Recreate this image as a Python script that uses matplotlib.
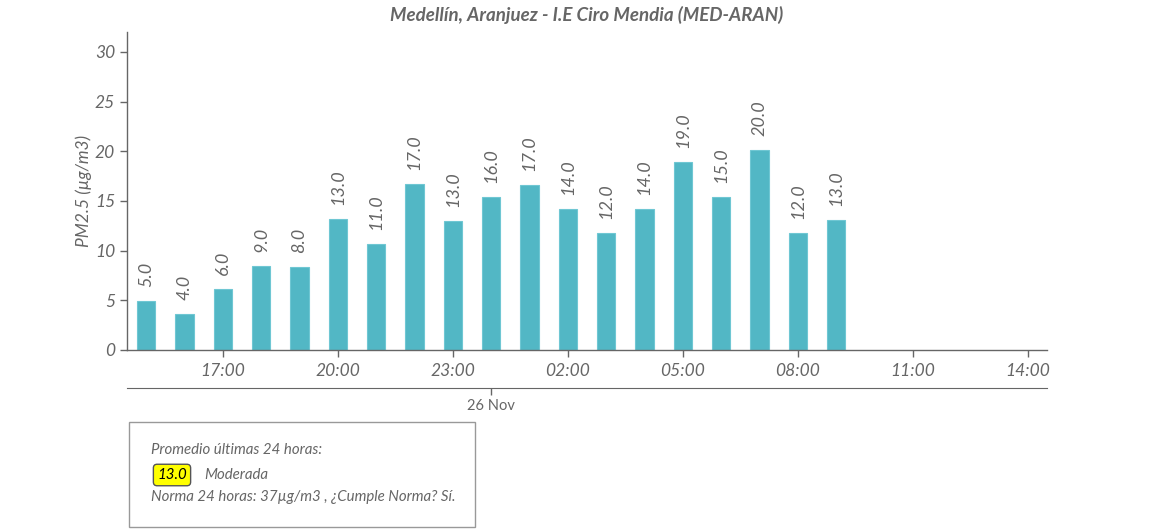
import matplotlib
matplotlib.use('Agg')
import matplotlib.pyplot as plt
import matplotlib.dates as mdates
from matplotlib.patches import Rectangle
import pandas as pd

plt.rcParams['font.family'] = ['Lato', 'DejaVu Sans']

# --- data ---
hours = ['2023-11-25 15:00', '2023-11-25 16:00', '2023-11-25 17:00', '2023-11-25 18:00',
         '2023-11-25 19:00', '2023-11-25 20:00', '2023-11-25 21:00', '2023-11-25 22:00',
         '2023-11-25 23:00', '2023-11-26 00:00', '2023-11-26 01:00', '2023-11-26 02:00',
         '2023-11-26 03:00', '2023-11-26 04:00', '2023-11-26 05:00', '2023-11-26 06:00',
         '2023-11-26 07:00', '2023-11-26 08:00', '2023-11-26 09:00']
pm25 = [4.9, 3.6, 6.1, 8.5, 8.4, 13.2, 10.7, 16.7, 13.0, 15.4,
        16.6, 14.2, 11.8, 14.2, 18.9, 15.4, 20.1, 11.8, 13.1]
labels = ['5.0', '4.0', '6.0', '9.0', '8.0', '13.0', '11.0', '17.0', '13.0', '16.0',
          '17.0', '14.0', '12.0', '14.0', '19.0', '15.0', '20.0', '12.0', '13.0']
x_start, x_end = '2023-11-25 14:30', '2023-11-26 14:30'
day_tick = '2023-11-26 00:00'
day_label = '26 Nov'
avg_24h = '13.0'
avg_category = 'Moderada'

title = 'Medellín, Aranjuez - I.E Ciro Mendia (MED-ARAN)'
gray = '#666666'
bar_color = '#52b7c5'

times = pd.to_datetime(hours)

W, H = 1150, 530
fig = plt.figure(figsize=(W / 100, H / 100), dpi=100)
# axes box in pixel coords: left 127, right 1047, top 32, bottom 350
ax = fig.add_axes([127 / W, (H - 350) / H, (1047 - 127) / W, (350 - 32) / H])

bar_w = 0.47 / 24
bars = ax.bar(times, pm25, width=bar_w, color=bar_color, edgecolor='#6fc7d3', linewidth=0.8)
for b, lab in zip(bars, labels):
    ax.annotate(lab, (b.get_x() + b.get_width() / 2, b.get_height()),
                xytext=(0, 10), textcoords='offset points', rotation=90,
                ha='center', va='bottom', fontsize=13, style='italic', color=gray)

ax.set_xlim(pd.Timestamp(x_start), pd.Timestamp(x_end))
ax.set_ylim(0, 32)
ax.set_yticks([0, 5, 10, 15, 20, 25, 30])
ax.xaxis.set_major_locator(mdates.HourLocator(byhour=range(2, 24, 3)))
ax.xaxis.set_major_formatter(mdates.DateFormatter('%H:%M'))

for s in ['top', 'right']:
    ax.spines[s].set_visible(False)
for s in ['left', 'bottom']:
    ax.spines[s].set_color(gray)
    ax.spines[s].set_linewidth(1.0)
ax.tick_params(colors=gray, labelsize=12.5, length=5, width=1)
ax.tick_params(axis='x', pad=4)
for t in ax.get_xticklabels() + ax.get_yticklabels():
    t.set_style('italic')
    t.set_color(gray)

ax.set_ylabel('PM2.5 (µg/m3)', fontsize=12.5, style='italic', color=gray, labelpad=2)
ax.set_title(title, fontsize=13.5, style='italic', weight='bold', color=gray, pad=8)

# secondary date axis below
sec = ax.secondary_xaxis(-38 / 318)
sec.set_xticks([pd.Timestamp(day_tick)])
sec.set_xticklabels([day_label])
sec.spines['bottom'].set_color(gray)
sec.tick_params(colors=gray, labelsize=10.5, length=5, width=1, pad=3)

# info box
def fx(px):
    return px / W

def fy(py):
    return (H - py) / H

fig.patches.append(Rectangle((fx(129), fy(527)), fx(475) - fx(129), fy(422) - fy(527),
                             transform=fig.transFigure, facecolor='white',
                             edgecolor='#999999', linewidth=1))
fig.text(fx(151), fy(450), 'Promedio últimas 24 horas:', fontsize=10.8, style='italic',
         color=gray, va='center')
fig.text(fx(172), fy(475), avg_24h, fontsize=10.8, style='italic', color='black',
         ha='center', va='center',
         bbox=dict(boxstyle='round,pad=0.25,rounding_size=0.25', facecolor='#ffff00',
                   edgecolor='#555555', linewidth=1))
fig.text(fx(204), fy(475), avg_category, fontsize=10.8, style='italic', color=gray, va='center')
fig.text(fx(151), fy(497), 'Norma 24 horas: 37µg/m3 , ¿Cumple Norma? Sí.', fontsize=10.8,
         style='italic', color=gray, va='center')

fig.savefig('out.png', dpi=100)
